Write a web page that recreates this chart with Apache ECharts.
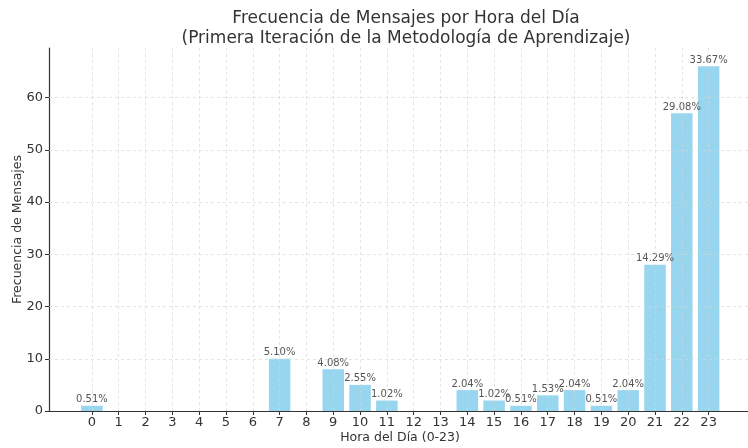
<!DOCTYPE html>
<html>
<head>
<meta charset="utf-8">
<script src="https://cdn.jsdelivr.net/npm/echarts@6.0.0/dist/echarts.min.js"></script>
<style>
  html, body { margin: 0; padding: 0; background: #fff; }
  #chart { width: 748px; height: 448px; }
</style>
</head>
<body>
<div id="chart"></div>
<script>
// horas del dia y mensajes por hora
const hours = [0, 1, 2, 3, 4, 5, 6, 7, 8, 9, 10, 11, 12, 13, 14, 15, 16, 17, 18, 19, 20, 21, 22, 23];
const counts = [1, 0, 0, 0, 0, 0, 0, 10, 0, 8, 5, 2, 0, 0, 4, 2, 1, 3, 4, 1, 4, 28, 57, 66];
const percents = ["0.51%", "", "", "", "", "", "", "5.10%", "", "4.08%", "2.55%", "1.02%", "", "",
  "2.04%", "1.02%", "0.51%", "1.53%", "2.04%", "0.51%", "2.04%", "14.29%", "29.08%", "33.67%"];
const yTicks = [0, 10, 20, 30, 40, 50, 60];

const FONT = "DejaVu Sans";
const chart = echarts.init(document.getElementById("chart"));

let barData = [];
for (let i = 0; i < hours.length; i++) {
  if (counts[i] > 0) {
    barData.push({ value: [hours[i], counts[i]], pct: percents[i] });
  }
}

const option = {
  animation: false,
  backgroundColor: "#fff",
  title: {
    text: "Frecuencia de Mensajes por Hora del Día\n(Primera Iteración de la Metodología de Aprendizaje)",
    left: 401,
    top: 4,
    textAlign: "center",
    textStyle: { fontFamily: FONT, fontWeight: "normal", fontSize: 17, lineHeight: 20, color: "#333" }
  },
  grid: { left: 49, top: 48, width: 702, bottom: 37, containLabel: false, outerBoundsMode: "none" },
  xAxis: {
    type: "value",
    min: -1.6,
    max: 24.58,
    name: "Hora del Día (0-23)",
    nameLocation: "middle",
    nameGap: 20,
    nameMoveOverlap: false,
    nameTextStyle: { fontFamily: FONT, fontSize: 12.5, color: "#333" },
    axisLine: { show: true, onZero: false, lineStyle: { color: "#333", width: 1.2 } },
    axisTick: { show: true, customValues: hours, length: 4, lineStyle: { color: "#333" } },
    axisLabel: { customValues: hours, fontFamily: FONT, fontSize: 13, color: "#333", margin: 5 },
    splitLine: { show: false }
  },
  yAxis: {
    type: "value",
    min: 0,
    max: 69.5,
    name: "Frecuencia de Mensajes",
    nameLocation: "middle",
    nameGap: 25,
    nameMoveOverlap: false,
    nameTextStyle: { fontFamily: FONT, fontSize: 12.5, color: "#333" },
    axisLine: { show: true, onZero: false, lineStyle: { color: "#333", width: 1.2 } },
    axisTick: { show: true, customValues: yTicks, length: 4, lineStyle: { color: "#333" } },
    axisLabel: { customValues: yTicks, fontFamily: FONT, fontSize: 13, color: "#333", margin: 6 },
    splitLine: { show: false }
  },
  series: [
    {
      type: "bar",
      data: barData,
      barWidth: 21.5,
      itemStyle: { color: "#98D5EE" },
      label: {
        show: true,
        position: "top",
        distance: 1,
        fontFamily: FONT,
        fontSize: 10,
        color: "#555",
        formatter: function (p) { return p.data.pct; }
      },
      markLine: {
        silent: true,
        symbol: "none",
        label: { show: false },
        z: 10,
        lineStyle: { color: "#d4d4d4", type: [3, 3], width: 0.8, opacity: 0.8 },
        data: hours.map(function (h) { return { xAxis: h }; })
          .concat(yTicks.filter(function (t) { return t > 0; }).map(function (t) { return { yAxis: t }; }))
      }
    }
  ]
};

chart.setOption(option);
</script>
</body>
</html>
